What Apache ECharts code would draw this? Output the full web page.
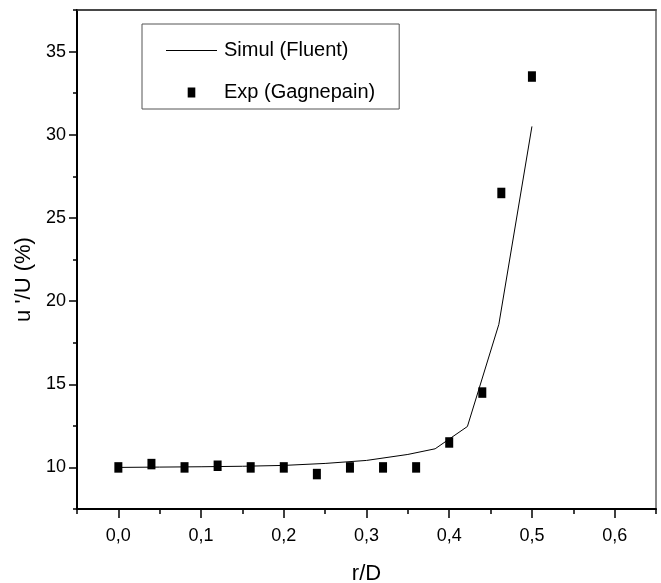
<!DOCTYPE html>
<html>
<head>
<meta charset="utf-8">
<script src="https://cdn.jsdelivr.net/npm/echarts@6/dist/echarts.min.js"></script>
<style>
html,body{margin:0;padding:0;background:#fff;}
#c{width:661px;height:583px;}
</style>
</head>
<body>
<div id="c"></div>
<script>
// Simulation (Fluent) curve
var simX = [0, 0.05, 0.10, 0.15, 0.20, 0.25, 0.30, 0.35, 0.383, 0.422, 0.46, 0.50];
var simY = [10.0, 10.02, 10.04, 10.07, 10.12, 10.24, 10.42, 10.78, 11.12, 12.46, 18.6, 30.5];
// Experiment (Gagnepain)
var expX = [0, 0.04, 0.08, 0.12, 0.16, 0.20, 0.24, 0.28, 0.32, 0.36, 0.40, 0.44, 0.463, 0.50];
var expY = [10.0, 10.2, 10.0, 10.1, 10.0, 10.0, 9.6, 10.0, 10.0, 10.0, 11.5, 14.5, 26.5, 33.5];
// Axis ticks
var xMajor = [0, 0.1, 0.2, 0.3, 0.4, 0.5, 0.6];
var yMajor = [10, 15, 20, 25, 30, 35];

var FONT = "'Liberation Sans', Arial, sans-serif";

var simData = simX.map(function (x, i) { return [x, simY[i]]; });
var expData = expX.map(function (x, i) { return [x, expY[i]]; });

var chart = echarts.init(document.getElementById('c'), null, {renderer: 'canvas'});
chart.setOption({
  animation: false,
  backgroundColor: '#fff',
  grid: {left: 77, right: 5, top: 10, bottom: 74, show: true, borderColor: '#888', borderWidth: 2,
         containLabel: false, outerBoundsMode: 'none'},
  legend: {
    orient: 'vertical', left: 142, top: 24,
    padding: [15, 24, 5, 24], itemGap: 19,
    borderColor: '#555', borderWidth: 1, backgroundColor: '#fff',
    itemWidth: 51, itemHeight: 10,
    textStyle: {fontFamily: FONT, fontSize: 20, color: '#000', lineHeight: 23, padding: [0,0,0,2]},
    data: [
      {name: 'Simul (Fluent)', icon: 'path://M0,0 H51 V1 H0 Z', itemStyle: {color: '#000'}},
      {name: 'Exp (Gagnepain)', icon: 'path://M0,0 H8 V10.5 H0 Z', itemStyle: {color: '#000', opacity: 1}}
    ]
  },
  xAxis: [
    {
      type: 'value', min: -0.05, max: 0.65, interval: 0.05, position: 'bottom',
      name: 'r/D', nameLocation: 'middle', nameGap: 54,
      nameTextStyle: {fontFamily: FONT, fontSize: 22, color: '#000'},
      axisLine: {show: true, onZero: false, lineStyle: {color: '#000', width: 2}},
      axisTick: {show: true, inside: false, length: 5, lineStyle: {color: '#000', width: 1.5}},
      axisLabel: {
        margin: 18, fontFamily: FONT, fontSize: 18, color: '#000',
        formatter: function (v) {
          for (var i = 0; i < xMajor.length; i++) if (Math.abs(v - xMajor[i]) < 1e-6) return xMajor[i].toFixed(1).replace('.', ',');
          return '';
        }
      },
      splitLine: {show: false}
    },
    {
      type: 'value', min: -0.05, max: 0.65, position: 'bottom',
      axisLine: {show: false, onZero: false},
      axisTick: {show: true, length: 9, customValues: xMajor, lineStyle: {color: '#000', width: 1.5}},
      axisLabel: {show: false},
      splitLine: {show: false}
    },
    {
      type: 'value', min: -0.05, max: 0.65, position: 'top',
      axisLine: {show: true, onZero: false, lineStyle: {color: '#333', width: 1.5}},
      axisTick: {show: false}, axisLabel: {show: false}, splitLine: {show: false}
    }
  ],
  yAxis: [
    {
      type: 'value', min: 7.5, max: 37.5, interval: 2.5, position: 'left',
      name: "u '/U (%)", nameLocation: 'middle', nameGap: 30, nameRotate: 90,
      nameTextStyle: {fontFamily: FONT, fontSize: 22, color: '#000', padding: [0, 40, 0, 0]},
      axisLine: {show: true, onZero: false, lineStyle: {color: '#000', width: 2}},
      axisTick: {show: true, length: 4, lineStyle: {color: '#000', width: 1.5}},
      axisLabel: {
        margin: 11, fontFamily: FONT, fontSize: 18, color: '#000',
        formatter: function (v) {
          for (var i = 0; i < yMajor.length; i++) if (Math.abs(v - yMajor[i]) < 1e-6) return String(yMajor[i]);
          return '';
        }
      },
      splitLine: {show: false}
    },
    {
      type: 'value', min: 7.5, max: 37.5, position: 'left',
      axisLine: {show: false, onZero: false},
      axisTick: {show: true, length: 8, customValues: yMajor, lineStyle: {color: '#000', width: 1.5}},
      axisLabel: {show: false},
      splitLine: {show: false}
    }
  ],
  series: [
    {
      name: 'Simul (Fluent)', type: 'line', data: simData, xAxisIndex: 0, yAxisIndex: 0,
      symbol: 'none', showSymbol: false, smooth: false,
      lineStyle: {color: '#000', width: 1}, itemStyle: {color: '#000'}, z: 2
    },
    {
      name: 'Exp (Gagnepain)', type: 'scatter', data: expData, xAxisIndex: 0, yAxisIndex: 0,
      symbol: 'rect', symbolSize: [8, 10.5],
      itemStyle: {color: '#000', opacity: 1}, z: 3
    }
  ]
});
</script>
</body>
</html>
